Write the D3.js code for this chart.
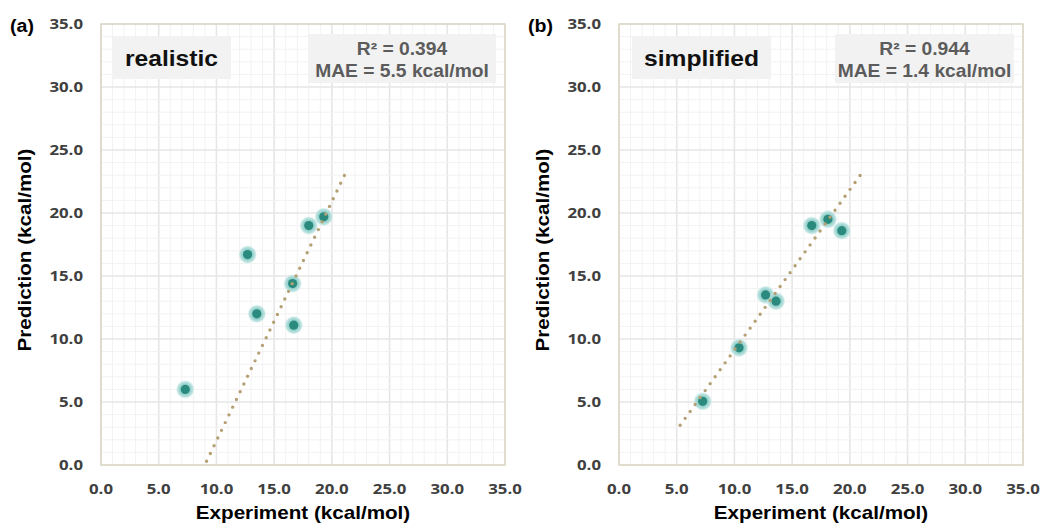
<!DOCTYPE html>
<html>
<head>
<meta charset="utf-8">
<script src="https://cdn.jsdelivr.net/npm/d3@7"></script>
<style>
  body { margin: 0; background: #fff; }
  svg { display: block; }
  .tick-label { font-family: "Open Sans", "DejaVu Sans", sans-serif; font-weight: 700; font-size: 14px; fill: #404040; }
  .title { font-family: "Liberation Sans", Arial, sans-serif; font-weight: 700; font-size: 17.5px; fill: #000; }
  .boxed { font-family: "Liberation Sans", Arial, sans-serif; font-weight: 700; }
</style>
</head>
<body>
<svg id="chart" width="1041" height="528"></svg>
<script>
// experiment vs prediction values, kcal/mol
var expA = [7.3, 12.7, 13.5, 16.6, 16.7, 18.0, 19.3];
var predA = [6.0, 16.7, 12.0, 14.4, 11.1, 19.0, 19.7];
var expB = [7.25, 10.4, 12.7, 13.6, 16.7, 18.1, 19.3];
var predB = [5.05, 9.3, 13.5, 13.0, 19.0, 19.5, 18.6];

// trendline end points [x, y]
var trendA = [[9.15, 0.3], [21.1, 23.0]];
var trendB = [[5.3, 3.15], [20.9, 23.0]];

var ticks = [0, 5, 10, 15, 20, 25, 30, 35];
var panels = [
  { tag: "(a)", label: "realistic", r2: "R² = 0.394", mae: "MAE = 5.5 kcal/mol",
    x: expA, y: predA, trend: trendA, left: 101, labelBox: [112, 231], statBox: [308, 496] },
  { tag: "(b)", label: "simplified", r2: "R² = 0.944", mae: "MAE = 1.4 kcal/mol",
    x: expB, y: predB, trend: trendB, left: 619, labelBox: [632, 771], statBox: [835, 1014] }
];

var svg = d3.select("#chart");
var plotTop = 24, plotBottom = 465, plotW = 404;

// the source text is a bit wider than Liberation Sans, so stretch it sideways
function place(x, y, k, rot){
    return "translate(" + x + "," + y + ")" + (rot ? " rotate(" + rot + ")" : "") + " scale(" + k + ",1)";
}

// marker glow
var defs = svg.append("defs");
var grad = defs.append("radialGradient").attr("id", "halo");
grad.append("stop").attr("offset", "0%").attr("stop-color", "#7fc7c1").attr("stop-opacity", 1);
grad.append("stop").attr("offset", "60%").attr("stop-color", "#9cd4d0").attr("stop-opacity", 1);
grad.append("stop").attr("offset", "82%").attr("stop-color", "#b8e1de").attr("stop-opacity", 0.85);
grad.append("stop").attr("offset", "100%").attr("stop-color", "#d8efed").attr("stop-opacity", 0);

panels.forEach(function(p){
    var xScale = d3.scaleLinear().domain([0, 35]).range([p.left, p.left + plotW]);
    var yScale = d3.scaleLinear().domain([0, 35]).range([plotBottom, plotTop]);
    var g = svg.append("g");

    // grid every 1.0, heavier every 5.0
    var grid = d3.range(0, 36, 1);
    g.selectAll(".vgrid").data(grid).enter().append("line")
        .attr("x1", function(d){ return xScale(d); }).attr("x2", function(d){ return xScale(d); })
        .attr("y1", plotTop).attr("y2", plotBottom)
        .attr("stroke", function(d){ return d % 5 === 0 ? "#e6e6e6" : "#f2f2f2"; })
        .attr("stroke-width", function(d){ return d % 5 === 0 ? 1.6 : 1; });
    g.selectAll(".hgrid").data(grid).enter().append("line")
        .attr("y1", function(d){ return yScale(d); }).attr("y2", function(d){ return yScale(d); })
        .attr("x1", p.left).attr("x2", p.left + plotW)
        .attr("stroke", function(d){ return d % 5 === 0 ? "#e6e6e6" : "#f2f2f2"; })
        .attr("stroke-width", function(d){ return d % 5 === 0 ? 1.6 : 1; });

    // plot border
    g.append("rect")
        .attr("x", p.left).attr("y", plotTop)
        .attr("width", plotW).attr("height", plotBottom - plotTop)
        .attr("fill", "none").attr("stroke", "#ddd8c4").attr("stroke-width", 1.5);

    // tick labels
    g.selectAll(".xt").data(ticks).enter().append("text")
        .attr("class", "tick-label")
        .attr("transform", function(d){ return place(xScale(d), 494, 1.2); })
        .attr("text-anchor", "middle")
        .text(function(d){ return d.toFixed(1); });
    g.selectAll(".yt").data(ticks).enter().append("text")
        .attr("class", "tick-label")
        .attr("transform", function(d){ return place(p.left - 18, yScale(d) + 5, 1.2); })
        .attr("text-anchor", "end")
        .text(function(d){ return d.toFixed(1); });

    // axis titles
    g.append("text").attr("class", "title")
        .attr("transform", place(p.left + plotW / 2, 519, 1.18))
        .attr("text-anchor", "middle")
        .text("Experiment (kcal/mol)");
    g.append("text").attr("class", "title")
        .attr("transform", place(p.left - 70, 250, 1.18, -90))
        .attr("text-anchor", "middle")
        .text("Prediction (kcal/mol)");

    // panel tag
    g.append("text")
        .attr("class", "boxed")
        .attr("transform", place(p.left - 91, 32, 1.12))
        .attr("font-size", 17.5)
        .text(p.tag);

    // label box
    g.append("rect")
        .attr("x", p.labelBox[0]).attr("y", 36)
        .attr("width", p.labelBox[1] - p.labelBox[0]).attr("height", 43)
        .attr("fill", "#f2f2f2");
    g.append("text")
        .attr("class", "boxed")
        .attr("transform", place((p.labelBox[0] + p.labelBox[1]) / 2, 66, 1.12))
        .attr("text-anchor", "middle")
        .attr("font-size", 22)
        .attr("fill", "#111")
        .text(p.label);

    // stats box
    g.append("rect")
        .attr("x", p.statBox[0]).attr("y", 34)
        .attr("width", p.statBox[1] - p.statBox[0]).attr("height", 49)
        .attr("fill", "#f2f2f2");
    var cx = (p.statBox[0] + p.statBox[1]) / 2;
    g.append("text")
        .attr("class", "boxed")
        .attr("transform", place(cx, 55, 1.1))
        .attr("text-anchor", "middle")
        .attr("font-size", 17.5)
        .attr("fill", "#5c5c5c")
        .text(p.r2);
    g.append("text")
        .attr("class", "boxed")
        .attr("transform", place(cx, 77, 1.1))
        .attr("text-anchor", "middle")
        .attr("font-size", 17.5)
        .attr("fill", "#5c5c5c")
        .text(p.mae);

    var pts = p.x.map(function(d, i){ return [d, p.y[i]]; });

    // halos then dark centres
    g.selectAll(".halo").data(pts).enter().append("circle")
        .attr("cx", function(d){ return xScale(d[0]); })
        .attr("cy", function(d){ return yScale(d[1]); })
        .attr("r", 9.5)
        .attr("fill", "url(#halo)");
    g.selectAll(".dot").data(pts).enter().append("circle")
        .attr("cx", function(d){ return xScale(d[0]); })
        .attr("cy", function(d){ return yScale(d[1]); })
        .attr("r", 4.6)
        .attr("fill", "#2b8a7e");

    // dotted trendline, spacing nudged so a dot lands on both ends
    var x1 = xScale(p.trend[0][0]), y1 = yScale(p.trend[0][1]);
    var x2 = xScale(p.trend[1][0]), y2 = yScale(p.trend[1][1]);
    var len = Math.sqrt((x2 - x1) * (x2 - x1) + (y2 - y1) * (y2 - y1));
    var gap = len / Math.round(len / 8.6);
    g.append("line")
        .attr("x1", x1).attr("y1", y1)
        .attr("x2", x2).attr("y2", y2)
        .attr("stroke", "#b5a074")
        .attr("stroke-width", 3.4)
        .attr("stroke-linecap", "round")
        .attr("stroke-dasharray", "0 " + (gap - 0.01));
});
</script>
</body>
</html>
